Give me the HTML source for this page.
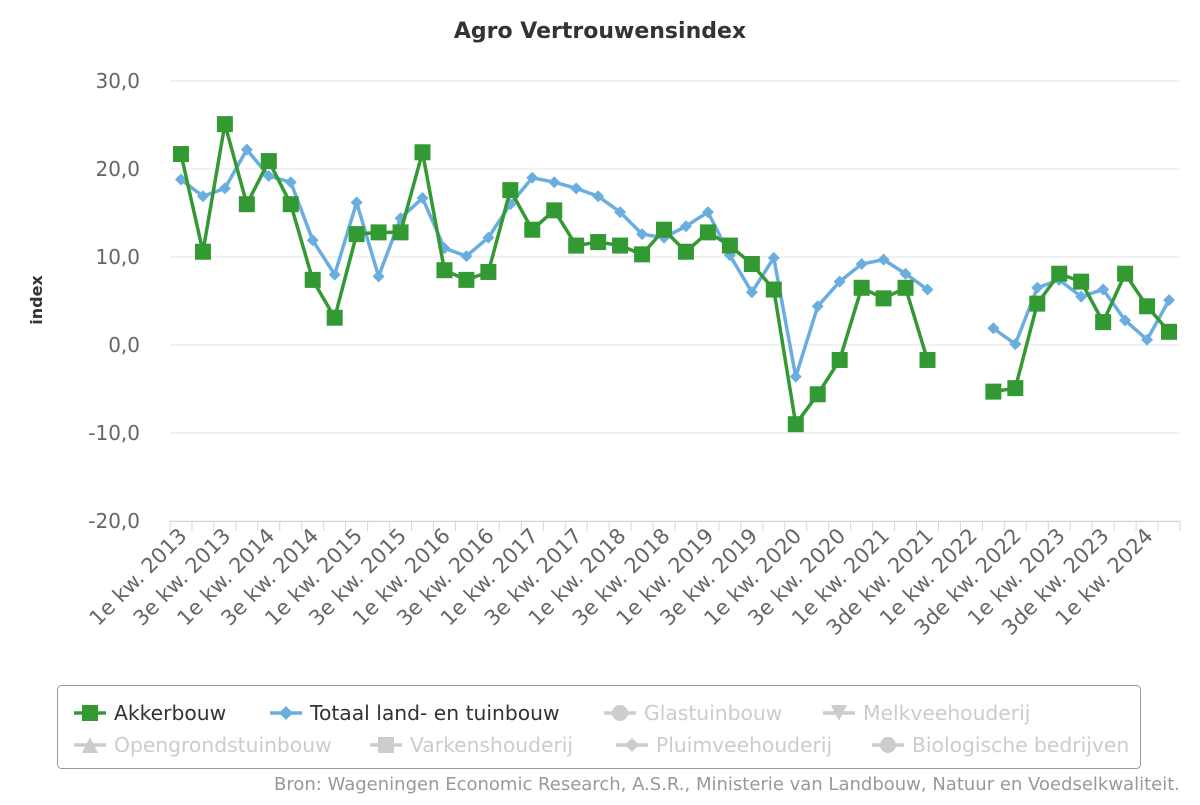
<!DOCTYPE html>
<html><head><meta charset="utf-8"><style>
body{margin:0;background:#fff;font-family:"Liberation Sans","DejaVu Sans",sans-serif}
svg text{font-family:"DejaVu Sans","Liberation Sans",sans-serif}
</style></head><body>
<svg id="c" width="1200" height="800" xmlns="http://www.w3.org/2000/svg">
<rect width="1200" height="800" fill="#fff"/>
<text x="600" y="38" text-anchor="middle" font-size="22" font-weight="bold" fill="#333">Agro Vertrouwensindex</text>
<text transform="translate(42,300) rotate(-90)" text-anchor="middle" font-size="16" font-weight="bold" fill="#333">index</text>
<g id="grid"></g><g id="xaxis"></g><g id="series"></g>
<rect x="57.5" y="685.5" width="1083" height="83" rx="4" fill="none" stroke="#999"/>
<g id="legend"></g>
<text x="1180" y="790" text-anchor="end" font-size="18" fill="#999">Bron: Wageningen Economic Research, A.S.R., Ministerie van Landbouw, Natuur en Voedselkwaliteit.</text>
</svg>
<script>
const years=[2013,2014,2015,2016,2017,2018,2019,2020,2021,2022,2023,2024];
const akkerbouw=[21.7,10.6,25.1,16.0,20.9,16.0,7.4,3.1,12.6,12.8,12.8,21.9,8.5,7.4,8.3,17.6,13.1,15.3,11.3,11.7,11.3,10.3,13.1,10.6,12.8,11.3,9.2,6.3,-9.0,-5.6,-1.7,6.5,5.3,6.5,-1.7,null,null,-5.3,-4.9,4.7,8.1,7.2,2.6,8.1,4.4,1.5];
const totaal=[18.8,16.9,17.8,22.2,19.2,18.5,11.9,8.0,16.2,7.8,14.4,16.7,11.0,10.1,12.2,16.0,19.0,18.5,17.8,16.9,15.1,12.6,12.2,13.5,15.1,10.2,6.0,9.9,-3.6,4.4,7.2,9.2,9.7,8.1,6.3,null,null,1.9,0.1,6.5,7.4,5.5,6.3,2.8,0.6,5.1];
const yTicks=[30,20,10,0,-10,-20];
const yTickLabels=["30,0","20,0","10,0","0,0","-10,0","-20,0"];
const categories=[];
years.forEach(y=>{for(let q=1;q<=4;q++){if(categories.length<46){const suf=(q===3&&y>=2021&&y<=2023)?'de':'e';categories.push(q+suf+' kw. '+y);}}});
const NS='http://www.w3.org/2000/svg';
const X0=170,X1=1180,n=categories.length,bw=(X1-X0)/n;
const x=i=>X0+bw*(i+0.5);
const y=v=>345-v*8.8;
function el(t,a,p){const e=document.createElementNS(NS,t);for(const k in a)e.setAttribute(k,a[k]);p.appendChild(e);return e;}
const grid=document.getElementById('grid');
yTicks.forEach((v,i)=>{
 const l=el('line',{x1:X0,x2:X1,y1:y(v),y2:y(v),stroke:'#e6e6e6'},grid);
 
 
 const t=el('text',{x:140,y:y(v)+7,'text-anchor':'end','font-size':20,fill:'#666'},grid);
 t.textContent=yTickLabels[i];
 
 
});
const xa=document.getElementById('xaxis');
const ax=el('line',{x1:X0,x2:X1,y1:521.5,y2:521.5,stroke:'#ccd6eb'},xa);


for(let i=0;i<=n;i++){const tk=el('line',{x1:X0+bw*i,x2:X0+bw*i,y1:521,y2:531,stroke:'#ccd6eb'},xa);
 
 }
categories.forEach((c,i)=>{if(i%2)return;
 const t=el('text',{transform:`translate(${x(i)+7},${537}) rotate(-45)`,'text-anchor':'end','font-size':21,fill:'#666'},xa);
 t.textContent=c;
 
 
});
const sg=document.getElementById('series');
function path(data){let d='',pen=false;data.forEach((v,i)=>{if(v===null){pen=false;return;}d+=(pen?'L':'M')+x(i)+' '+y(v)+' ';pen=true;});return d;}
function marker(type,cx,cy,col,p,size){
 let m;
 if(type==='square')m=el('rect',{x:cx-size,y:cy-size,width:size*2,height:size*2,fill:col},p);
 else if(type==='diamond')m=el('path',{d:`M${cx} ${cy-size}L${cx+size} ${cy}L${cx} ${cy+size}L${cx-size} ${cy}Z`,fill:col},p);
 else if(type==='circle')m=el('circle',{cx,cy,r:size,fill:col},p);
 else if(type==='tri')m=el('path',{d:`M${cx} ${cy-size}L${cx+size} ${cy+size}L${cx-size} ${cy+size}Z`,fill:col},p);
 else m=el('path',{d:`M${cx} ${cy+size}L${cx+size} ${cy-size}L${cx-size} ${cy-size}Z`,fill:col},p);
 return m;}
[[totaal,'#6aaee0','diamond',6,'totaal-series'],[akkerbouw,'#339933','square',8,'akkerbouw-series']].forEach(([data,col,mk,sz,name])=>{
 const g=el('g',{},sg);
 
 
 el('path',{d:path(data),fill:'none',stroke:col,'stroke-width':3.5,'stroke-linejoin':'round'},g);
 data.forEach((v,i)=>{if(v===null)return;const m=marker(mk,x(i),y(v),col,g,sz);
  
  });
});
const legendItems=[['Akkerbouw','#339933','#333','square',74,713],['Totaal land- en tuinbouw','#6aaee0','#333','diamond',270,713],['Glastuinbouw','#ccc','#ccc','circle',604,713],['Melkveehouderij','#ccc','#ccc','tridown',823,713],
['Opengrondstuinbouw','#ccc','#ccc','tri',74,745],['Varkenshouderij','#ccc','#ccc','square',370,745],['Pluimveehouderij','#ccc','#ccc','diamond',616,745],['Biologische bedrijven','#ccc','#ccc','circle',872,745]];
const lg=document.getElementById('legend');
legendItems.forEach(([lab,col,tc,mk,lx,ly])=>{
 const g=el('g',{style:'cursor:pointer'},lg);
 
 
 el('line',{x1:lx,x2:lx+32,y1:ly,y2:ly,stroke:col,'stroke-width':3.5},g);
 marker(mk,lx+16,ly,col,g,mk==='diamond'?7:8);
 const t=el('text',{x:lx+40,y:ly+7,'font-size':20.3,fill:tc},g);
 t.textContent=lab;
});
</script>
</body></html>
